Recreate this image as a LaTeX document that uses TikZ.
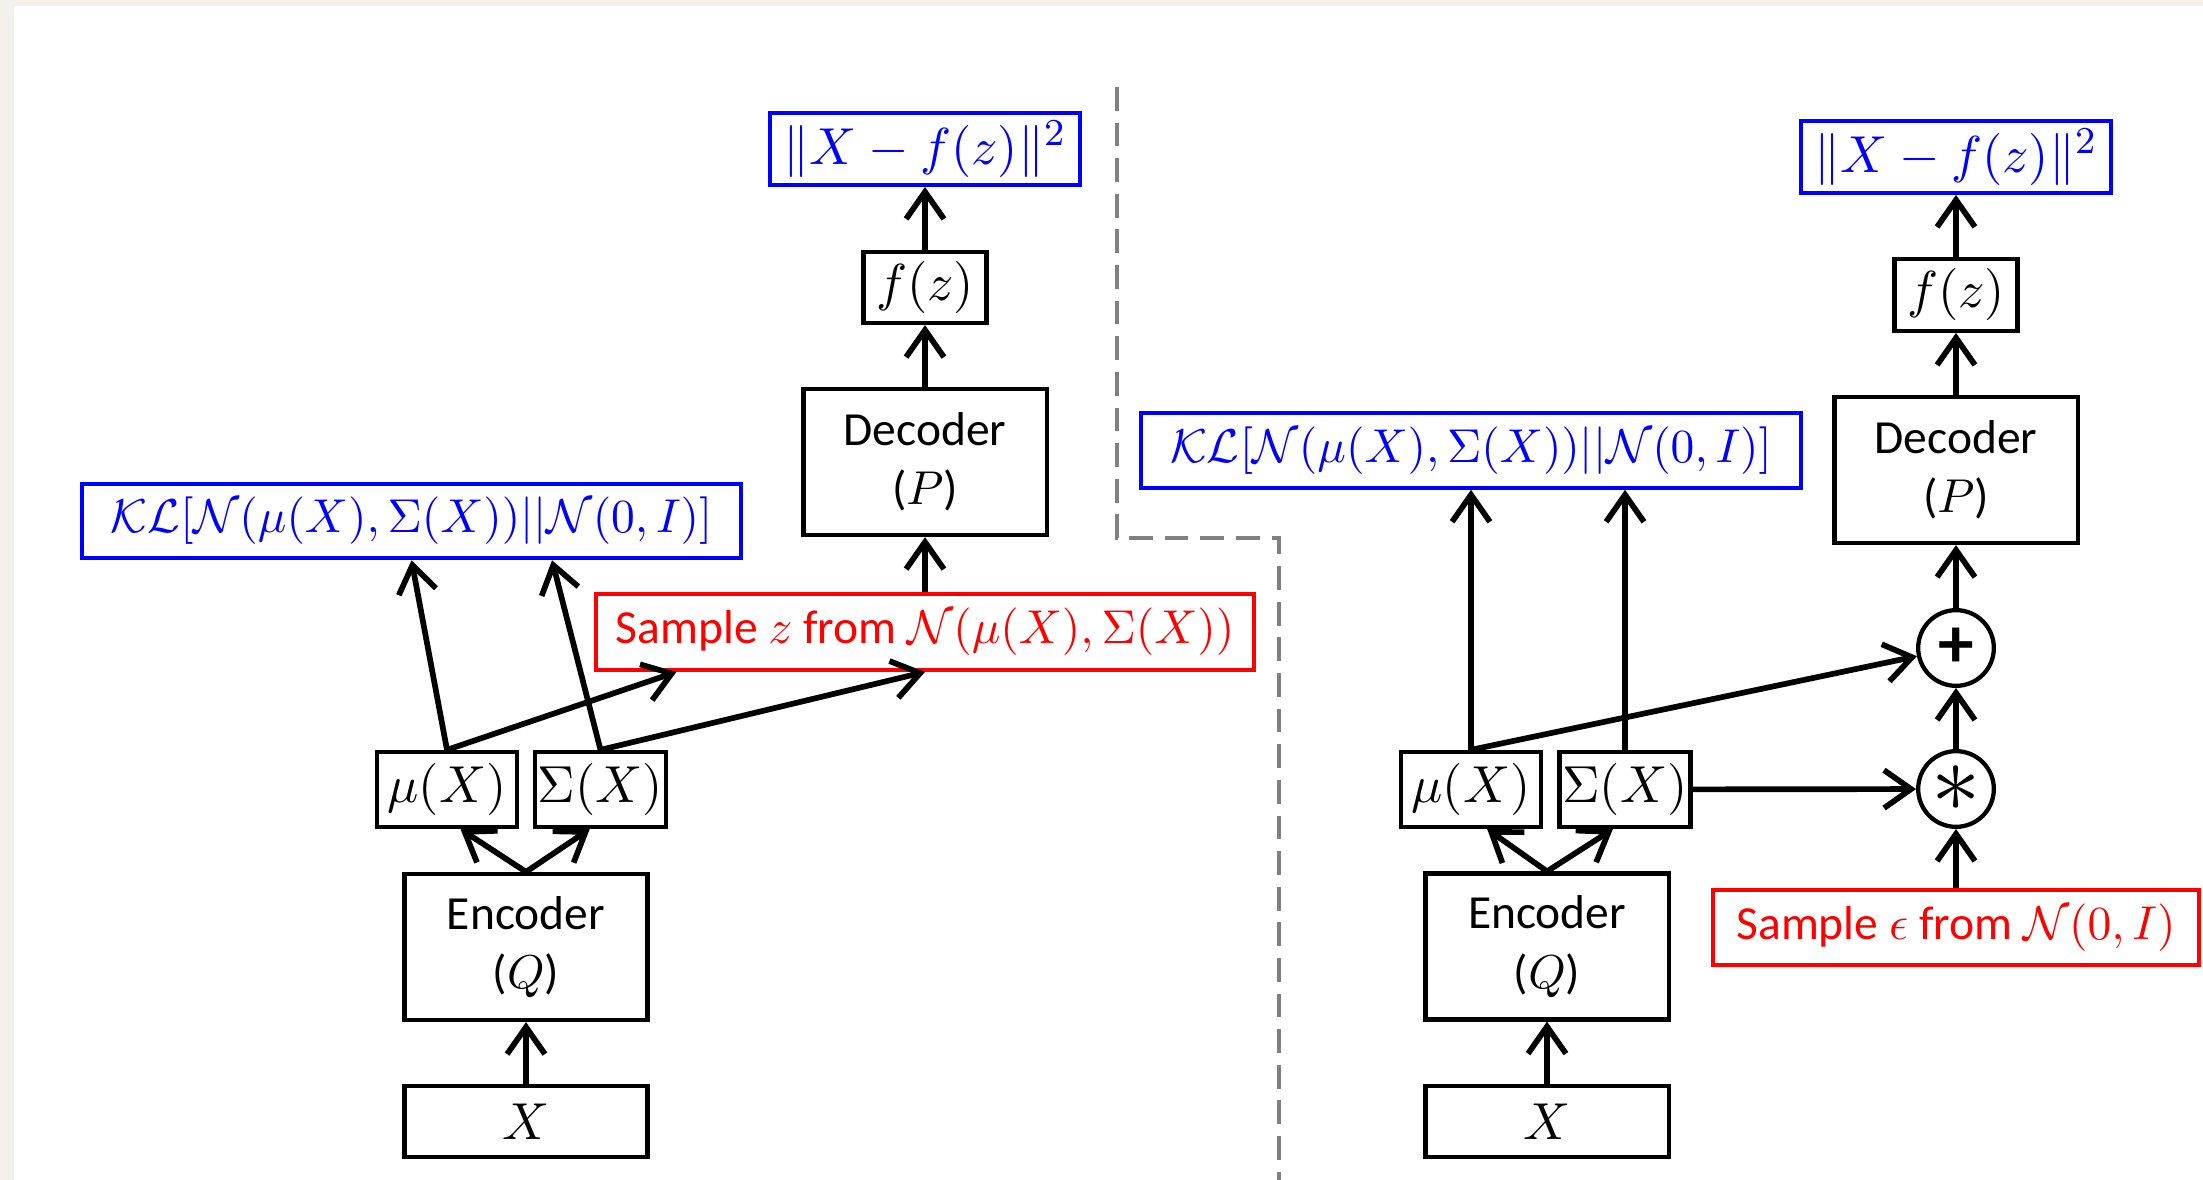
\documentclass[tikz,border=0pt]{standalone}
\usepackage{fontspec}
\setsansfont{Carlito}
\usetikzlibrary{arrows.meta,calc}
\tikzset{>={Straight Barb[length=2mm,width=2.8mm]}}
\definecolor{paper}{RGB}{244,241,236}
\definecolor{dashgray}{RGB}{128,128,128}

\begin{document}
\begin{tikzpicture}[x=0.74cm,y=-0.74cm,
    box/.style = {draw, line width=0.9pt, inner sep=0pt, font=\fontsize{10.5}{12.5}\selectfont},
    net/.style = {box, minimum width=1.8cm, minimum height=1.08cm, align=center, font=\sffamily\fontsize{10}{12.5}\selectfont},
    inp/.style = {box, minimum width=1.8cm, minimum height=0.525cm},
    par/.style = {box, minimum height=0.555cm},
    loss/.style = {box, draw=blue, text=blue, minimum width=2.29cm, minimum height=0.53cm, font=\fontsize{11}{13}\selectfont},
    kl/.style = {box, draw=blue, text=blue, minimum width=4.88cm, minimum height=0.55cm, font=\fontsize{10.25}{12}\selectfont},
    samp/.style = {box, draw=red, text=red, minimum height=0.56cm, font=\sffamily\fontsize{10}{12}\selectfont},
    opnode/.style = {draw, circle, line width=0.9pt, minimum size=0.56cm, inner sep=0pt},
    arr/.style = {->, line width=1.2pt}]
\fill[paper] (0,0) rectangle (22.03,11.80);
\fill[white] (0.14,0.06) rectangle (22.03,11.80);
\useasboundingbox (0,0) rectangle (22.03,11.80);
\draw[dashgray, line width=1pt, dash pattern=on 5pt off 2.5pt] (11.17,0.87) -- (11.17,5.38) -- (12.79,5.38) -- (12.79,11.80);
\begin{scope}
    \node[inp] (x1) at (5.26,11.215) {$X$};
    \node[net] (enc1) at (5.26,9.47) {Encoder\\($Q$)};
    \node[par, minimum width=1.04cm] (mu1) at (4.47,7.895) {$\mu(X)$};
    \node[par, minimum width=0.97cm] (sig1) at (6.005,7.895) {$\Sigma(X)$};
    \node[kl] (kl1) at (4.115,5.21) {$\mathcal{KL}[\mathcal{N}(\mu(X),\Sigma(X))||\mathcal{N}(0,I)]$};
    \node[samp, minimum width=4.87cm] (samp1) at (9.25,6.32) {Sample $z$ from $\mathcal{N}(\mu(X),\Sigma(X))$};
    \node[net] (dec1) at (9.25,4.62) {Decoder\\($P$)};
    \node[box, minimum width=0.91cm, minimum height=0.525cm] (fz1) at (9.25,2.875) {$f(z)$};
    \node[loss] (loss1) at (9.25,1.49) {$\|X-f(z)\|^2$};
    \draw[arr] (x1) -- (enc1);
    \draw[arr] (enc1.north) -- ([xshift=0.1cm]mu1.south);
    \draw[arr] (enc1.north) -- ([xshift=-0.08cm]sig1.south);
    \draw[arr] (mu1.north) -- (kl1.south);
    \draw[arr] (sig1.north) -- ([xshift=1.04cm]kl1.south);
    \draw[arr] (mu1.north) -- ([xshift=-1.84cm]samp1.south);
    \draw[arr] (sig1.north) -- (samp1.south);
    \draw[arr] (samp1) -- (dec1);
    \draw[arr] (dec1) -- (fz1);
    \draw[arr] (fz1) -- (loss1);
\end{scope}
\begin{scope}
    \node[inp] (x2) at (15.47,11.215) {$X$};
    \node[net] (enc2) at (15.47,9.465) {Encoder\\($Q$)};
    \node[par, minimum width=1.04cm] (mu2) at (14.71,7.895) {$\mu(X)$};
    \node[par, minimum width=0.97cm] (sig2) at (16.25,7.895) {$\Sigma(X)$};
    \node[kl] (kl2) at (14.71,4.505) {$\mathcal{KL}[\mathcal{N}(\mu(X),\Sigma(X))||\mathcal{N}(0,I)]$};
    \node[samp, minimum width=3.6cm] (samp2) at (19.56,9.275) {Sample $\epsilon$ from $\mathcal{N}(0,I)$};
    \node[opnode, font=\fontsize{21}{21}\selectfont] (mult) at (19.56,7.89) {$\ast$};
    \node[opnode, font=\sffamily\bfseries\fontsize{15}{15}\selectfont] (add) at (19.56,6.48) {+};
    \node[net] (dec2) at (19.56,4.70) {Decoder\\($P$)};
    \node[box, minimum width=0.91cm, minimum height=0.53cm] (fz2) at (19.56,2.95) {$f(z)$};
    \node[loss] (loss2) at (19.56,1.57) {$\|X-f(z)\|^2$};
    \draw[arr] (x2) -- (enc2);
    \draw[arr] (enc2.north) -- ([xshift=0.12cm]mu2.south);
    \draw[arr] (enc2.north) -- ([xshift=-0.09cm]sig2.south);
    \draw[arr] (mu2.north) -- (mu2.north |- kl2.south);
    \draw[arr] (sig2.north) -- (sig2.north |- kl2.south);
    \draw[arr] (mu2.north) -- (add);
    \draw[arr] (sig2) -- (mult);
    \draw[arr] (samp2) -- (mult);
    \draw[arr] (mult) -- (add);
    \draw[arr] (add) -- (dec2);
    \draw[arr] (dec2) -- (fz2);
    \draw[arr] (fz2) -- (loss2);
\end{scope}
\end{tikzpicture}
\end{document}
